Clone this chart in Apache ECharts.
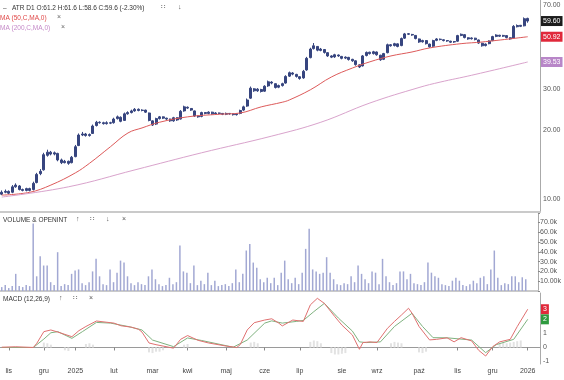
<!DOCTYPE html>
<html><head><meta charset="utf-8">
<script src="https://cdn.jsdelivr.net/npm/echarts@6/dist/echarts.min.js"></script>
<style>html,body{margin:0;padding:0;background:#fff}#c{width:564px;height:380px}</style>
</head><body><div id="c"></div>
<script>
const FONT = 'Liberation Sans, Arial, sans-serif';
const NCAT = 154;
const monthIdx = [2, 12, 21, 32, 43, 53, 64, 75, 85, 97, 107, 119, 130, 140, 150];
const monthNames = ['lis','gru','2025','lut','mar','kwi','maj','cze','lip','sie','wrz','paź','lis','gru','2026'];

const open = [
10.5,10.7,10.8,10.7,11.3,11.4,11.0,10.9,11.1,11.0,
11.8,12.9,13.4,15.5,16.0,15.7,15.8,14.8,14.4,14.6,
14.4,15.3,17.1,19.0,19.2,18.9,19.3,20.9,21.6,21.5,
21.3,21.5,21.5,22.4,22.7,22.0,23.5,23.8,24.2,24.6,
24.3,24.4,23.7,21.9,21.2,22.4,22.8,22.5,22.3,21.9,
22.6,22.3,24.2,25.1,24.8,24.2,23.0,22.9,23.8,23.6,
23.9,23.5,23.7,23.6,23.4,23.6,23.5,23.3,23.6,24.4,
25.4,27.5,30.2,29.6,30.0,29.5,31.1,32.3,31.8,30.7,
31.2,32.0,34.3,35.4,34.9,34.1,33.7,36.5,41.3,45.2,
46.2,44.4,44.8,43.4,42.0,41.6,42.4,41.8,41.1,41.4,
40.6,40.0,38.4,38.0,42.2,43.6,43.0,43.7,42.3,40.6,
43.4,47.0,46.6,47.4,46.6,50.2,52.5,52.1,51.6,49.8,
48.4,49.0,47.3,46.3,49.1,49.7,49.4,49.0,48.7,48.3,
48.7,51.6,52.0,50.4,49.9,50.2,49.3,47.7,46.6,47.5,
49.0,51.1,51.7,51.2,51.5,50.4,50.2,56.3,57.1,56.8,
61.2];
const close = [
10.7,10.8,10.6,11.3,11.5,11.0,10.9,11.1,10.9,11.7,
12.8,13.2,15.6,16.0,15.7,15.9,14.8,14.4,14.6,14.3,
15.2,16.9,19.0,19.2,18.9,19.1,20.8,21.6,21.5,21.3,
21.5,21.4,22.3,22.8,21.8,23.5,23.8,24.2,24.6,24.3,
24.4,23.9,22.0,21.0,22.4,22.8,22.5,22.3,21.9,22.6,
22.1,24.1,25.2,24.9,24.4,23.0,22.8,23.8,23.6,23.9,
23.5,23.7,23.6,23.4,23.6,23.5,23.3,23.5,24.3,25.2,
27.0,30.4,29.6,30.1,29.4,31.0,32.4,32.0,30.6,31.2,
31.8,34.2,35.5,35.0,34.2,33.5,36.0,41.0,45.0,46.5,
44.5,45.0,43.5,42.0,41.5,42.5,42.0,41.0,41.5,40.5,
40.0,38.5,37.6,42.0,43.5,43.0,43.8,42.5,40.4,43.0,
47.0,46.5,47.5,46.2,50.0,52.4,52.2,51.8,50.0,48.3,
49.0,47.5,46.0,49.0,49.8,49.5,49.0,48.8,48.2,48.5,
51.5,52.2,50.5,49.8,50.3,49.5,47.8,46.5,47.3,48.8,
51.0,51.8,51.2,51.6,50.5,49.8,56.5,57.0,56.5,61.0,
59.6];
const high = [
10.9,11.0,10.9,11.5,11.7,11.5,11.1,11.2,11.2,11.9,
13.0,13.5,15.9,16.4,16.2,16.1,15.9,15.0,14.8,14.7,
15.4,17.2,19.3,19.6,19.4,19.3,21.1,21.9,21.8,21.7,
21.8,21.7,22.6,23.1,22.9,23.8,24.1,24.5,24.9,24.8,
24.6,24.5,23.8,22.0,22.6,23.0,22.9,22.6,22.4,22.8,
22.7,24.4,25.5,25.3,24.9,24.3,23.1,24.0,23.9,24.1,
24.0,23.9,23.8,23.7,23.8,23.7,23.6,23.7,24.5,25.5,
27.4,30.9,30.4,30.4,30.2,31.3,32.8,32.6,31.9,31.5,
32.1,34.6,35.9,35.7,35.1,34.3,36.5,41.6,45.6,47.8,
46.4,45.5,45.0,43.6,42.3,42.9,42.6,42.0,41.8,41.6,
40.8,40.2,38.6,42.4,43.9,43.8,44.2,43.9,42.5,43.3,
47.5,47.3,47.9,47.6,50.5,52.9,52.8,52.4,51.8,50.0,
49.4,49.2,47.5,49.4,50.2,50.0,49.6,49.2,48.9,48.8,
51.9,52.6,52.2,50.6,50.6,50.4,49.5,47.9,47.6,49.1,
51.4,52.2,51.9,51.9,51.7,50.6,57.2,57.6,57.3,61.8,
61.6];
const low = [
10.4,10.6,10.5,10.6,11.2,10.9,10.8,10.8,10.8,10.9,
11.7,12.7,13.3,15.3,15.5,15.5,14.6,14.2,14.3,14.1,
14.3,15.2,17.0,18.8,18.7,18.7,19.2,20.7,21.3,21.1,
21.1,21.2,21.3,22.2,21.6,21.9,23.3,23.6,24.0,24.1,
24.1,23.7,21.8,20.8,21.0,22.2,22.3,22.1,21.7,21.7,
21.9,22.2,24.0,24.7,24.2,22.8,22.6,22.7,23.4,23.4,
23.3,23.3,23.4,23.2,23.2,23.3,23.1,23.1,23.4,24.2,
25.2,27.3,29.3,29.3,29.1,29.3,30.8,31.6,30.3,30.4,
30.9,31.8,34.0,34.6,33.8,33.1,33.4,36.2,41.0,44.8,
44.0,44.0,43.0,41.6,41.1,41.2,41.6,40.6,40.7,40.1,
39.6,38.1,37.2,37.8,41.8,42.6,42.6,42.1,40.0,40.3,
43.1,46.1,46.2,45.8,46.3,49.8,51.8,51.4,49.6,47.9,
48.0,47.1,45.6,46.0,48.7,49.1,48.6,48.4,47.8,47.9,
48.4,51.2,50.1,49.4,49.5,49.1,47.4,46.1,46.2,47.2,
48.7,50.7,50.8,50.8,50.1,49.4,50.0,55.9,56.1,56.5,
58.6];

// moving averages: [bar index, value]
const ma50 = [[0,10.4],[8,10.7],[14,11.5],[21,13.0],[25,14.3],[31,16.9],[36,19.4],[40,20.4],[45,21.6],[53,22.8],[62,23.4],[68,23.7],[74,25.2],[80,26.4],[82,27.0],[88,29.9],[94,34.0],[100,37.2],[105,39.6],[111,42.0],[117,43.7],[122,45.5],[131,47.5],[137,48.3],[150,50.92]];
const ma200 = [[0,10.2],[19,11.3],[38,13.4],[57,15.9],[77,18.8],[91,21.6],[105,26.2],[119,30.6],[125,32.3],[134,34.6],[150,39.53]];

// volume in thousands
const volume = [
4,6,3,5,17.5,5,4,6,5,69,
15,35.5,26,26,9,6,39.6,5,7,6,
17.5,21,22,8,6,9,20,32.8,15,7,
6,22,9,18.7,31,29,15,8,6,9,
7,6,15,22,12,7,5,6,13.5,7,
9,46.4,20,18.7,8,26,6,10.5,7,18.7,
6,10.5,5,6,7,5,8,22,9,17.5,
41.3,48,29,23.8,12,9,13.5,8,13.5,6,
18.7,31,12,8,13.5,7,18.7,43,63.4,22,
20,17.5,18.7,34.5,18.7,12,7,6,8,7,
15,9,26,17.5,12,8,20,18.7,7,32.8,
15,9,6,8,20,20,12,17.5,8,7,
6,9,29,18.7,15,13.5,7,6,5,10.5,
13.5,10.5,6,5,7,10.5,8,13.5,15,7,
22,41.3,13.5,6,8,7,15,15,9,14,
12];

const macd = [[0,0.02],[4,0.05],[9,0.0],[10,0.3],[12,1.13],[14,1.25],[16,1.1],[20,0.77],[22,1.2],[24,1.5],[27,1.89],[30,1.8],[32,1.74],[34,1.55],[37,1.45],[39,1.3],[40,1.1],[42,0.32],[44,0.2],[46,0.1],[49,-0.05],[51,0.58],[53,0.85],[56,0.51],[59,0.32],[64,0.1],[67,0.0],[68,0.2],[70,1.25],[72,1.77],[75,1.96],[77,2.05],[79,1.74],[80,1.54],[83,1.96],[86,1.86],[88,3.04],[90,3.51],[92,3.15],[95,2.2],[97,1.6],[100,0.89],[102,-0.13],[103,0.35],[105,0.4],[107,0.35],[110,1.37],[112,1.86],[114,2.32],[116,2.8],[117,2.45],[119,1.5],[122,0.54],[124,0.58],[127,0.69],[129,0.4],[131,0.7],[134,0.47],[136,-0.2],[138,-0.61],[140,0.06],[142,0.4],[145,0.58],[147,1.49],[150,2.73]];
const signal = [[0,0.0],[9,0.0],[12,0.6],[14,1.05],[16,1.13],[20,0.65],[23,1.13],[27,1.79],[31,1.74],[36,1.5],[40,1.25],[43,0.53],[49,0.06],[53,0.68],[57,0.5],[66,0.02],[70,0.53],[75,1.74],[77,1.9],[80,1.74],[84,1.86],[86,1.93],[89,2.56],[92,3.15],[96,2.1],[100,1.17],[102,0.4],[104,0.35],[108,0.4],[112,1.5],[117,2.44],[120,1.5],[123,0.7],[127,0.69],[134,0.53],[138,-0.37],[141,0.2],[146,0.58],[150,2.01]];
const hist = [[12,0.35],[13,0.3],[14,0.2],[18,-0.2],[19,-0.25],[24,0.25],[25,0.3],[26,0.2],[42,-0.35],[43,-0.4],[44,-0.3],[45,-0.3],[46,-0.2],[52,0.2],[53,0.25],[71,0.35],[72,0.4],[73,0.3],[88,0.4],[89,0.5],[90,0.45],[91,0.3],[94,-0.4],[95,-0.5],[96,-0.5],[97,-0.45],[98,-0.4],[111,0.3],[112,0.4],[113,0.35],[114,0.3],[119,-0.35],[120,-0.4],[121,-0.3],[142,0.3],[143,0.35],[144,0.3],[145,0.35],[146,0.4],[147,0.45],[148,0.5]];

const priceTicks = [70, 30, 20, 10];
const macdTicks = [1, 0, -1];

const categories = Array.from({length: NCAT}, (_, i) => String(i));
const labelMap = {};
monthIdx.forEach((idx, k) => { labelMap[idx] = monthNames[k]; });
const candles = close.map((c, i) => [open[i], c, low[i], high[i]]);
const lastClose = close[close.length - 1];
const lastMa50 = ma50[ma50.length - 1][1];
const lastMa200 = ma200[ma200.length - 1][1];
const lastMacd = macd[macd.length - 1][1];
const lastSignal = signal[signal.length - 1][1];

const NAVY = '#37457f';
const chart = echarts.init(document.getElementById('c'));
const hiddenLine = {color: 'rgba(0,0,0,0)', width: 0, type: 'solid'};
const tickLabel = {show: true, position: 'end', distance: 3, fontSize: 7, color: '#555', fontFamily: FONT};
const boxLabel = (txt, bg) => ({show: true, formatter: txt, color: '#fff', backgroundColor: bg, padding: [2, 2, 1, 2], distance: 1, fontSize: 7, fontFamily: FONT});

const txt = (x, y, s, fill, size) => ({type: 'text', x: x, y: y, silent: true,
  style: {text: s, fill: fill || '#333', font: (size || 6.5) + 'px ' + FONT}});

chart.setOption({
  animation: false,
  backgroundColor: '#fff',
  grid: [
    {left: 0, right: 24, top: 0, height: 212},
    {left: 0, right: 24, top: 213, height: 78},
    {left: 0, right: 24, top: 293, height: 71}
  ],
  xAxis: [0, 1, 2].map(g => ({
    type: 'category', gridIndex: g, data: categories, boundaryGap: true,
    axisLine: {show: true, lineStyle: g < 2 ? {color: '#cacaca', width: 2} : {color: '#9a9a9a', width: 1}},
    axisTick: {show: g === 2, interval: (i) => labelMap[i] !== undefined, length: 3, alignWithLabel: true, lineStyle: {color: '#888'}},
    axisLabel: {show: g === 2, interval: (i) => labelMap[i] !== undefined, formatter: (v, i) => labelMap[i] || '',
      fontSize: 7, color: '#444', margin: 4, fontFamily: FONT},
    splitLine: {show: false}
  })),
  yAxis: [
    {type: 'log', logBase: 10, gridIndex: 0, position: 'right', min: 8.78, max: 73.6,
      axisLine: {show: true, lineStyle: {color: '#aaa'}}, axisTick: {show: false}, axisLabel: {show: false}, splitLine: {show: false}},
    {type: 'value', gridIndex: 1, position: 'right', min: 0, max: 79.6, interval: 10,
      axisLine: {show: true, lineStyle: {color: '#aaa'}}, axisTick: {show: true, length: 2, lineStyle: {color: '#888'}},
      axisLabel: {fontSize: 7, color: '#555', margin: 2, fontFamily: FONT,
        formatter: v => (v === 0 || Math.abs(v % 10) > 1e-6) ? '' : (v === 10 ? '10.00k' : v.toFixed(1) + 'k')},
      splitLine: {show: false}},
    {type: 'value', gridIndex: 2, position: 'right', min: -1.18, max: 3.89,
      axisLine: {show: true, lineStyle: {color: '#aaa'}}, axisTick: {show: false}, axisLabel: {show: false}, splitLine: {show: false}}
  ],
  series: [
    {type: 'candlestick', xAxisIndex: 0, yAxisIndex: 0, data: candles, barWidth: 2.5, clip: false,
      itemStyle: {color: NAVY, color0: NAVY, borderColor: NAVY, borderColor0: NAVY, borderWidth: 1},
      markLine: {silent: true, symbol: ['none', 'none'], animation: false, lineStyle: hiddenLine, label: tickLabel,
        data: priceTicks.map(v => ({yAxis: v, label: {formatter: v.toFixed(2)}})).concat([
          {yAxis: lastClose, label: boxLabel(lastClose.toFixed(2), '#1c1c1c')},
          {yAxis: lastMa50, label: boxLabel(lastMa50.toFixed(2), '#e0283a')},
          {yAxis: lastMa200, label: boxLabel(lastMa200.toFixed(2), '#b886c8')}
        ])}},
    {type: 'line', xAxisIndex: 0, yAxisIndex: 0, data: ma50, showSymbol: false, smooth: 0.4,
      lineStyle: {color: '#dd5a5a', width: 1}},
    {type: 'line', xAxisIndex: 0, yAxisIndex: 0, data: ma200, showSymbol: false, smooth: 0.4,
      lineStyle: {color: '#d9a3cc', width: 1}},
    {type: 'bar', xAxisIndex: 1, yAxisIndex: 1, data: volume, barWidth: 1.5,
      itemStyle: {color: '#a2a8d3'}},
    {type: 'bar', xAxisIndex: 2, yAxisIndex: 2, data: hist, barWidth: 2,
      itemStyle: {color: '#e2e2e2'}},
    {type: 'line', xAxisIndex: 2, yAxisIndex: 2, data: signal, showSymbol: false,
      lineStyle: {color: '#7fb27f', width: 1}},
    {type: 'line', xAxisIndex: 2, yAxisIndex: 2, data: macd, showSymbol: false, clip: false,
      lineStyle: {color: '#e07070', width: 1},
      markLine: {silent: true, symbol: ['none', 'none'], animation: false, lineStyle: hiddenLine, label: tickLabel,
        data: macdTicks.map(v => ({yAxis: v, label: {formatter: String(v)}})).concat([
          {yAxis: lastMacd, label: boxLabel(String(Math.round(lastMacd)), '#e0283a')},
          {yAxis: lastSignal, label: boxLabel(String(Math.round(lastSignal)), '#2e9a3e')}
        ])}}
  ],
  graphic: [
    txt(3, 5, '–', '#555'),
    txt(12, 5, 'ATR D1 O:61.2 H:61.6 L:58.6 C:59.6 (-2.30%)', '#333'),
    txt(161, 4, '∷', '#555', 7),
    txt(178, 4, '↓', '#555', 7),
    txt(0, 15, 'MA (50,C,MA,0)', '#e04848'),
    txt(57, 14, '×', '#666', 7),
    txt(0, 25, 'MA (200,C,MA,0)', '#c58ac8'),
    txt(61, 24, '×', '#666', 7),
    txt(3, 217, 'VOLUME & OPENINT', '#333'),
    txt(76, 216, '↑', '#555', 7),
    txt(90, 216, '∷', '#555', 7),
    txt(106, 216, '↓', '#555', 7),
    txt(122, 216, '×', '#555', 7),
    txt(3, 296, 'MACD (12,26,9)', '#333'),
    txt(59, 295, '↑', '#555', 7),
    txt(73, 295, '∷', '#555', 7),
    txt(89, 295, '×', '#555', 7)
  ]
});
</script></body></html>
